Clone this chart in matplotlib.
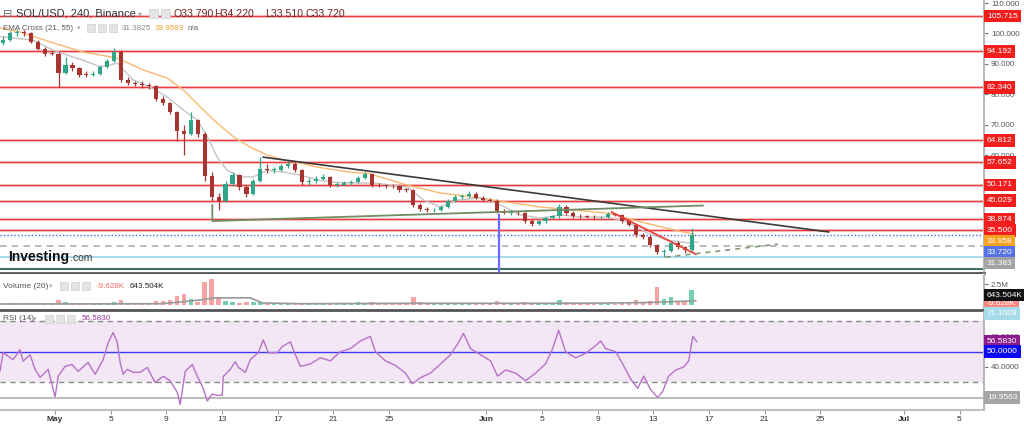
import matplotlib
matplotlib.use('Agg')
import matplotlib.pyplot as plt
import numpy as np
from matplotlib.patches import Rectangle
from matplotlib.transforms import blended_transform_factory

plt.rcParams['font.family'] = ['Liberation Sans', 'DejaVu Sans']

# SOL/USD, 12h candles (first one starts 27 Apr 12:00), days counted from 1 May
first_open = 97.0
closes = [98, 100, 100.5, 100, 97.3, 95, 93.4, 93.3, 87, 89.5,
          88.5, 86.4, 86.3, 86.7, 89, 91, 94, 84.8, 83.8, 83.5,
          83.2, 82.6, 78.5, 77, 74.2, 68, 67, 71.5, 67, 53,
          46.3, 44.9, 50.5, 53.3, 49.5, 47.2, 51.5, 55.5, 55, 55,
          56.3, 57, 55, 51.2, 51.4, 52.2, 52.8, 50.2, 50.3, 50.7,
          51.1, 52.6, 53.8, 50.2, 50, 49.9, 49.7, 48.6, 48.5, 43.5,
          42.3, 41.8, 42, 43, 45, 46.1, 46.4, 47.3, 46, 45.3,
          45, 41.5, 41, 41, 40.8, 38.2, 37.3, 38.2, 39.2, 39.8,
          43, 41, 40, 39.8, 39.7, 39.5, 39.6, 40.7, 40.3, 38.3,
          37, 33.7, 33.2, 30.5, 28.2, 28.4, 31.2, 29.6, 28.7, 33.72]
highs = [99, 100.8, 101.5, 101, 100.4, 98, 95.6, 94.3, 93.8, 92.2,
         90.5, 89, 87.5, 87.6, 89.6, 91.6, 95.2, 94.6, 85.6, 84.5,
         84.2, 83.8, 83, 79.4, 77.6, 74.6, 70, 74.2, 72, 67.6,
         54.5, 47.5, 51.5, 54.4, 53.8, 50.2, 52, 59.3, 57, 56,
         57.2, 58.4, 57.6, 55.5, 52.3, 53.2, 53.7, 53.2, 51, 51.4,
         51.8, 53.2, 54.5, 54.2, 50.9, 50.6, 50.4, 50.1, 49.3, 48.9,
         44.2, 42.9, 42.7, 43.6, 45.6, 46.8, 47.1, 48.2, 47.8, 46.6,
         45.9, 45.4, 42.2, 41.8, 41.5, 41.2, 38.8, 38.7, 39.7, 40.3,
         44, 43.5, 41.5, 40.6, 40.4, 40.2, 40.1, 41.3, 41, 40.6,
         38.7, 37.3, 34.3, 33.6, 30.9, 29.2, 31.8, 31.6, 30.2, 35.9]
lows = [96.3, 97.5, 99.3, 99.2, 96.8, 94.5, 92.6, 92.8, 82.4, 86.5,
        87.8, 85.8, 85.7, 85.9, 86.2, 88.5, 90.6, 84, 83.2, 82.8,
        82.2, 81.8, 77.8, 76.4, 73.4, 64.5, 60, 66.5, 65.8, 51.5,
        44.8, 42, 44.4, 49.8, 48.6, 46.2, 46.8, 51, 54, 54.2,
        54.6, 55.8, 54.4, 50.2, 50.3, 50.8, 51.8, 49.4, 49.5, 49.8,
        50.2, 50.7, 52.1, 49.6, 49.4, 49.2, 49, 48, 47.8, 42.8,
        41.6, 41.2, 41.3, 41.6, 42.6, 44.5, 45.6, 46, 45.5, 44.8,
        44.4, 40.8, 40.5, 40.4, 40.2, 37.6, 36.8, 36.9, 37.8, 38.8,
        39.4, 40.4, 39.4, 39.2, 39.2, 39, 39, 39.2, 39.8, 37.8,
        36.5, 33.2, 32.4, 29.8, 27.4, 26.4, 28, 29, 27.9, 28.2]
volumes = [0.15, 0.2, 0.1, 0.15, 0.2, 0.15, 0.2, 0.1, 0.6, 0.4,
           0.2, 0.15, 0.1, 0.15, 0.2, 0.25, 0.3, 0.6, 0.2, 0.15,
           0.15, 0.2, 0.5, 0.5, 0.6, 1.1, 1.3, 0.7, 0.4, 2.7,
           3.1, 0.8, 0.5, 0.3, 0.25, 0.3, 0.3, 0.35, 0.25, 0.2,
           0.2, 0.15, 0.2, 0.25, 0.1, 0.15, 0.1, 0.2, 0.1, 0.15,
           0.2, 0.3, 0.2, 0.4, 0.15, 0.1, 0.1, 0.15, 0.1, 0.9,
           0.3, 0.2, 0.15, 0.2, 0.25, 0.2, 0.15, 0.25, 0.15, 0.1,
           0.15, 0.5, 0.2, 0.15, 0.1, 0.3, 0.25, 0.2, 0.2, 0.15,
           0.6, 0.3, 0.2, 0.15, 0.1, 0.15, 0.1, 0.2, 0.15, 0.25,
           0.3, 0.6, 0.4, 0.5, 2.2, 0.7, 1.0, 0.5, 0.4, 1.8]
vol_ma_days = [-3.96, 7.55, 8.63, 10.43, 11.51, 14.03, 14.89, 17.63, 24.82, 32.01, 39.21, 42.81, 46.04]
vol_ma_vals = [0.12, 0.15, 0.3, 0.6, 0.85, 0.85, 0.25, 0.15, 0.2, 0.2, 0.22, 0.3, 0.5]

ema21_days = [-3.96, -1.58, -0.14, 0.86, 2.01, 3.24, 3.96, 4.46, 5.61, 6.83, 8.06, 9.21, 10.22, 10.94,
              11.65, 12.37, 13.31, 14.24, 15.25, 16.4, 17.63, 18.85, 20.0, 21.22, 22.88, 25.32, 26.47,
              27.7, 28.92, 30.58, 32.01, 33.45, 34.89, 36.33, 37.77, 39.71, 41.15, 42.59, 44.03, 45.47, 46.19]
ema21_vals = [99, 97.8, 94.5, 92.9, 91.2, 89, 89.6, 90.3, 84.7, 82.4, 79.1, 74.8, 71.5, 66,
              59.3, 55, 52.8, 52.8, 55, 54.4, 53.4, 51.8, 51.1, 50.8, 50.8, 49.5, 45.2,
              42.9, 45.2, 45.9, 43.6, 40.3, 39.3, 40.3, 39.6, 39.6, 38, 34.3, 32, 31.1, 31.38]
ema55_days = [-3.96, -2.52, -0.36, 2.01, 4.46, 6.33, 8.06, 9.21, 10.43, 11.65, 12.81, 14.03, 15.25, 16.4,
              17.63, 18.85, 21.22, 22.45, 25.32, 27.7, 30.07, 32.52, 34.89, 37.27, 39.71, 42.09, 44.46, 45.9]
ema55_vals = [101.8, 100.5, 97.2, 93.9, 91.9, 88, 85.3, 81.4, 75.8, 70.5, 66, 62.6, 60, 58.4,
              57.4, 56, 54.4, 54, 50.1, 47.5, 46.2, 44.5, 42.9, 41.9, 40.9, 38, 35.4, 33.96]

rsi_days = [-3.96, -3.74, -3.02, -2.52, -2.30, -1.80, -1.44, -1.08, -0.50, 0.0, 0.22, 0.72, 1.22, 1.65,
            2.37, 2.88, 3.45, 3.81, 4.17, 4.46, 4.68, 4.89, 5.18, 5.61, 6.12, 6.62, 7.19, 7.77, 8.27,
            8.78, 8.99, 9.35, 9.86, 10.22, 10.58, 10.94, 11.29, 11.65, 12.01, 12.09, 12.59, 12.95,
            13.17, 13.67, 14.03, 14.6, 14.96, 15.32, 15.97, 16.33, 16.91, 17.12, 17.63, 18.35, 19.06,
            19.78, 20.5, 21.22, 21.94, 22.66, 23.02, 23.74, 24.46, 25.18, 25.68, 26.26, 26.98, 27.7,
            28.42, 28.99, 29.35, 29.86, 30.58, 31.29, 31.8, 32.37, 33.09, 33.81, 34.53, 35.25, 35.76,
            36.19, 36.69, 37.41, 38.13, 38.85, 39.21, 39.57, 40.29, 40.79, 41.37, 41.87, 42.3, 42.81,
            43.31, 43.67, 44.1, 44.6, 45.18, 45.54, 45.83, 46.12]
rsi_vals = [37.3, 49.4, 44.8, 51.3, 43.8, 48, 38.4, 33.2, 38.4, 20.3, 33.9, 40.4, 41.6, 37.1,
            42.9, 35.2, 44.8, 55.7, 62.6, 56.5, 42.6, 35.2, 38.4, 36.5, 36.5, 39.7, 29.8, 33.9, 30.9,
            23.4, 15.4, 37.1, 41.6, 33.9, 27.4, 17.7, 22.3, 21.4, 21.4, 33.9, 38.4, 43.5,
            39.7, 36.5, 44.8, 49.3, 57.7, 49.3, 49.3, 53.4, 56.5, 51.3, 40.4, 42, 46,
            44, 50, 52, 57, 60, 50, 44, 41, 36, 29, 33, 36, 42,
            48, 56, 62, 52, 48, 44, 34, 38, 36, 31, 36, 42, 52,
            64, 50, 46, 49, 54, 57, 52, 50, 42, 32, 26, 34, 25,
            20, 24, 34, 38, 40, 44, 60, 56.58]

levels = [105.715, 94.192, 82.340, 64.812, 57.652, 50.171, 45.029, 38.874, 35.500]
last_price = 33.720
ema21_last = 31.383
ema55_last = 33.958
gray_level = 30.0
cyan_level = 26.55
green_level = 22.4

# drawn trend lines (day, price)
down_trend = [(14.96, 59.3), (55.6, 34.7)]
base_line = [(11.3, 43.55), (11.3, 38.3), (46.55, 43.4)]
blue_marker = [(31.87, 40.3), (31.87, 21.2)]
red_line = [(40.0, 41.25), (46.04, 27.4)]
dashed_support = [(43.88, 26.4), (51.94, 30.7)]

tick_days = [0, 4, 8, 12, 16, 20, 24, 31, 35, 39, 43, 47, 51, 55, 61, 65]
tick_labels = ['May', '5', '9', '13', '17', '21', '25', 'Jun', '5', '9', '13', '17', '21', '25', 'Jul', '5']

UP = '#2fa58a'
DOWN = '#a83530'
W, H = 1024, 425

fig = plt.figure(figsize=(10.24, 4.25), dpi=100)
fig.patch.set_facecolor('white')
ax = fig.add_axes([0, 1 - 273 / H, 984 / W, 273 / H])
axv = fig.add_axes([0, 1 - 310 / H, 984 / W, 36 / H])
axr = fig.add_axes([0, 1 - 410 / H, 984 / W, 98 / H])

xlim = (-3.96, 66.76)
for a in (ax, axv, axr):
    a.set_xlim(*xlim)
    a.set_facecolor('white')
    a.spines['top'].set_visible(False)
    a.spines['left'].set_visible(False)
    a.spines['right'].set_color('#b8b8b8')
    a.spines['right'].set_linewidth(1.5)
    a.yaxis.tick_right()
    a.tick_params(axis='y', labelsize=5.8, colors='#777', length=3, pad=2, labelcolor='#555')
for a in (ax, axv):
    a.spines['bottom'].set_color('#555')
    a.spines['bottom'].set_linewidth(2)
    a.set_xticks([])
axr.spines['bottom'].set_color('#c0c0c0')
axr.spines['bottom'].set_linewidth(1.5)

# ---- price pane (ticks under the coloured tags are left out)
ax.set_ylim(21.2, 111.0)
ax.set_yticks([60, 70, 80, 90, 100, 110])
ax.yaxis.set_major_formatter(matplotlib.ticker.FormatStrFormatter('%.3f'))

for lv in levels:
    ax.axhline(lv, color='#f07070', lw=2.2, alpha=0.35, zorder=1)
    ax.axhline(lv, color='#ee3b3b', lw=0.9, zorder=1)
ax.axhline(last_price, color='#4a66f0', lw=1, ls=(0, (1, 1.5)), zorder=1)
ax.axhline(gray_level, color='#b0b0b0', lw=1.2, ls=(0, (4, 3)), zorder=1)
ax.axhline(cyan_level, color='#9fd8ea', lw=1.3, zorder=1)
ax.axhline(green_level, color='#46705a', lw=1.5, zorder=1)
ax.axhline(21.35, color='#c8d4dc', lw=1, zorder=1)

ax.plot(ema55_days, ema55_vals, color='#f9b870', lw=1, zorder=2)
ax.plot(ema21_days, ema21_vals, color='#c4c4c4', lw=1, zorder=2)

opens = np.array([first_open] + closes[:-1])
c = np.array(closes)
t = -3.75 + 0.5 * np.arange(len(closes))
cols = np.where(c >= opens, UP, DOWN)
ax.vlines(t, lows, highs, colors=cols, lw=0.9, zorder=3)
ax.bar(t, np.maximum(np.abs(c - opens), 0.25), bottom=np.minimum(c, opens), width=0.3,
       color=cols, zorder=4, linewidth=0)

ax.plot(*zip(*down_trend), color='#3a3a3a', lw=1.2, zorder=5)
ax.plot(*zip(*base_line), color='#6f8c62', lw=1.3, zorder=5)
ax.plot(*zip(*blue_marker), color='#6b6bff', lw=1.6, zorder=5)
ax.plot(*zip(*red_line), color='#e8433e', lw=1.3, zorder=5)
ax.plot(*zip(*dashed_support), color='#7f9a72', lw=1.2, ls=(0, (3, 3)), zorder=5)


def tag(a, y, text, bg, fg='white'):
    tr = blended_transform_factory(a.transAxes, a.transData)
    a.text(1.003, y, text, transform=tr, fontsize=6.0, color=fg, va='center', ha='left',
           bbox=dict(boxstyle='square,pad=0.35', fc=bg, ec='none'), clip_on=False, zorder=10)


# price tags, pushed apart like the platform does
tags = [(lv, '%.3f' % lv, '#f21d1d') for lv in levels]
tags += [(ema55_last, '%.3f' % ema55_last, '#f7a21e'), (last_price, '%.3f' % last_price, '#5573e6'),
         (ema21_last, '%.3f' % ema21_last, '#a3a3a3')]
tags.sort(key=lambda r: -r[0])
prev = None
for val, txt, bg in tags:
    y = val if prev is None else min(val, prev - 3.6)
    tag(ax, y, txt, bg)
    prev = y

# ---- volume pane
axv.set_ylim(-0.6, 3.7)
axv.set_yticks([2.5])
axv.set_yticklabels(['2.5M'])
vcols = np.where(c >= opens, '#72d0ad', '#f5a3a3')
axv.bar(t, volumes, width=0.32, color=vcols, linewidth=0, zorder=2)
axv.plot(vol_ma_days, vol_ma_vals, color='#9a9a9a', lw=1.2, zorder=3)
tag(axv, 0.12, '-9.628K', '#f7877f')
tag(axv, 1.19, '643.504K', '#111111')

# ---- RSI pane
axr.set_ylim(11.8, 76.0)
axr.axhspan(30, 70, color='#f3e7f6', lw=0, zorder=0)
axr.axhline(70, color='#8a8a8a', lw=1, ls=(0, (4, 3)), zorder=1)
axr.axhline(30, color='#8a8a8a', lw=1, ls=(0, (4, 3)), zorder=1)
axr.axhline(50, color='#3b3bf5', lw=1, zorder=1)
axr.axhline(19.9563, color='#b0b0b0', lw=1.2, zorder=1)
axr.plot(rsi_days, rsi_vals, color='#b871c8', lw=1, zorder=3)
axr.set_yticks([40, 60])
axr.yaxis.set_major_formatter(matplotlib.ticker.FormatStrFormatter('%.4f'))
tag(axr, 56.583, '56.5830', '#8a1b8a')
tag(axr, 50.0, '50.0000', '#0a0af5')
tag(axr, 19.9563, '19.9563', '#a5a5a5')
tag(axr, 75.2, '71.1009', '#a6dbe9')

axr.set_xticks(tick_days)
axr.set_xticklabels(tick_labels)
axr.tick_params(axis='x', labelsize=6.0, colors='#999', labelcolor='#333', length=3, pad=1.5)
for lab in axr.get_xticklabels():
    if lab.get_text() in ('May', 'Jun', 'Jul'):
        lab.set_fontweight('bold')


# ---- header texts and little icon boxes (figure pixels)
def ftext(x, y, s, **kw):
    fig.text(x / W, 1 - y / H, s, va='center', ha='left', **kw)


def icons(x0, y0, n, size=9, gap=3):
    for k in range(n):
        fig.add_artist(Rectangle(((x0 + k * (size + gap)) / W, 1 - (y0 + size) / H), size / W, size / H,
                                 transform=fig.transFigure, fc='#e4e4e4', ec='#d0d0d0', lw=0.5, zorder=20))


ftext(3, 14, '\u229f', fontsize=8, color='#666', family=['DejaVu Sans'])
ftext(16, 14, 'SOL/USD, 240, Binance', fontsize=8.0, color='#333')
ftext(138, 14, '\u25be', fontsize=6, color='#aaa', family=['DejaVu Sans'])
icons(149, 9, 2)
for x, s in [(173, 'O33.790'), (214, 'H34.220'), (265, 'L33.510'), (305, 'C33.720')]:
    ftext(x, 14, s, fontsize=7.6, color='#6b2424')

ftext(3, 28, 'EMA Cross (21, 55)', fontsize=5.8, color='#555')
ftext(77, 28, '\u25be', fontsize=5, color='#aaa', family=['DejaVu Sans'])
icons(87, 24, 3, size=8)
ftext(122, 28, '31.3825', fontsize=5.8, color='#888')
ftext(155, 28, '33.9583', fontsize=5.8, color='#f5a030')
ftext(188, 28, 'n/a', fontsize=5.8, color='#666')

ftext(3, 286, 'Volume (20)', fontsize=6.0, color='#555')
ftext(49, 286, '\u25be', fontsize=5, color='#aaa', family=['DejaVu Sans'])
icons(60, 282, 3, size=8)
ftext(97, 286, '-9.628K', fontsize=5.8, color='#f06a60')
ftext(130, 286, '643.504K', fontsize=5.8, color='#222')

ftext(3, 319, 'RSI (14)', fontsize=6.0, color='#555')
ftext(33, 319, '\u25be', fontsize=5, color='#aaa', family=['DejaVu Sans'])
icons(45, 315, 3, size=8)
ftext(82, 319, '56.5830', fontsize=5.8, color='#9b3aa0')

ftext(8, 257, 'Investing', fontsize=10, color='#111', fontweight='bold')
ftext(70, 258, '.com', fontsize=7.5, color='#333')

fig.savefig('out.png', dpi=100)
